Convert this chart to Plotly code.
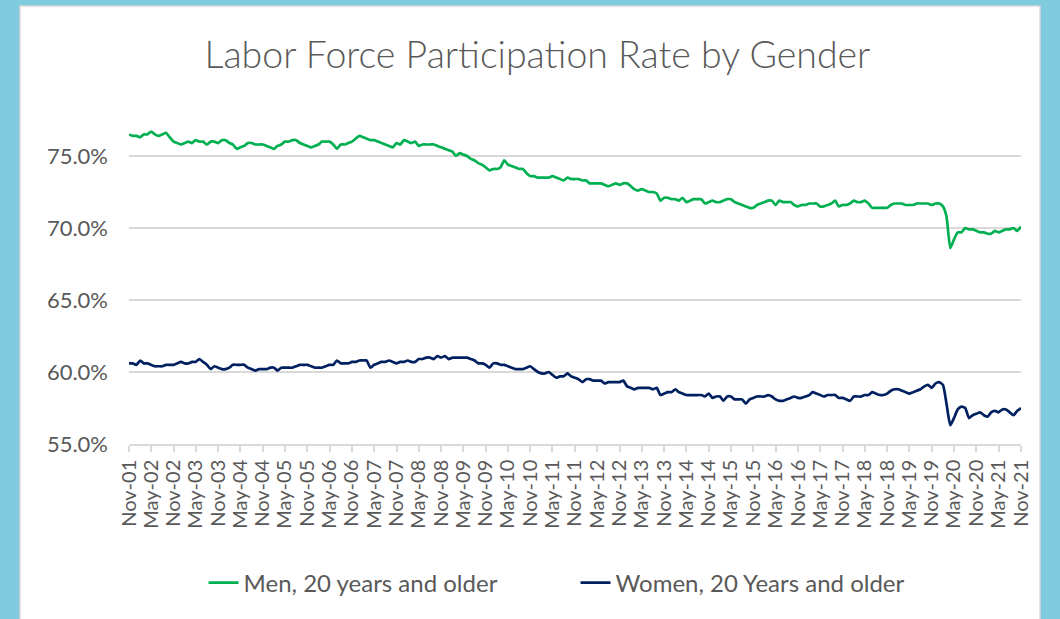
import pandas as pd
import plotly.graph_objects as go

# Monthly observations, Nov 2001 .. Nov 2021
start_month = "2001-11-01"
n_months = 241
months = pd.date_range(start_month, periods=n_months, freq="MS")

men_20_plus = [
    76.5, 76.4, 76.4, 76.3, 76.5, 76.5, 76.7, 76.5, 76.4, 76.5, 76.6, 76.3,
    76.0, 75.9, 75.8, 75.9, 76.0, 75.9, 76.1, 76.0, 76.0, 75.8, 76.0, 76.0,
    75.9, 76.1, 76.1, 75.9, 75.8, 75.5, 75.6, 75.7, 75.9, 75.9, 75.8, 75.8,
    75.8, 75.7, 75.6, 75.5, 75.7, 75.8, 76.0, 76.0, 76.1, 76.1, 75.9, 75.8,
    75.7, 75.6, 75.7, 75.8, 76.0, 76.0, 76.0, 75.8, 75.5, 75.8, 75.8, 75.9,
    76.0, 76.2, 76.4, 76.3, 76.2, 76.1, 76.1, 76.0, 75.9, 75.8, 75.7, 75.6,
    75.9, 75.8, 76.1, 76.0, 75.9, 76.0, 75.7, 75.8, 75.8, 75.8, 75.8, 75.7,
    75.6, 75.5, 75.4, 75.3, 75.0, 75.2, 75.1, 75.0, 74.8, 74.7, 74.5, 74.4,
    74.2, 74.0, 74.1, 74.1, 74.2, 74.7, 74.4, 74.3, 74.2, 74.1, 74.1, 73.8,
    73.6, 73.6, 73.5, 73.5, 73.5, 73.5, 73.6, 73.5, 73.4, 73.3, 73.5, 73.4,
    73.4, 73.4, 73.3, 73.3, 73.1, 73.1, 73.1, 73.1, 73.0, 72.9, 73.0, 73.1,
    73.0, 73.1, 73.1, 72.9, 72.7, 72.6, 72.7, 72.6, 72.5, 72.5, 72.4, 71.9,
    72.1, 72.1, 72.0, 72.0, 71.9, 72.1, 71.8, 71.9, 72.0, 72.0, 72.0, 71.7,
    71.8, 71.9, 71.8, 71.8, 71.9, 72.0, 72.0, 71.8, 71.7, 71.6, 71.5, 71.4,
    71.4, 71.6, 71.7, 71.8, 71.9, 71.9, 71.6, 71.9, 71.8, 71.8, 71.8, 71.6,
    71.5, 71.6, 71.6, 71.7, 71.7, 71.7, 71.5, 71.5, 71.6, 71.7, 71.9, 71.5,
    71.6, 71.6, 71.7, 71.9, 71.8, 71.8, 71.9, 71.7, 71.4, 71.4, 71.4, 71.4,
    71.4, 71.6, 71.7, 71.7, 71.7, 71.6, 71.6, 71.6, 71.7, 71.7, 71.7, 71.7,
    71.6, 71.7, 71.7, 71.5, 70.8, 68.6, 69.2, 69.7, 69.7, 70.0, 69.9, 69.9,
    69.8, 69.7, 69.7, 69.6, 69.6, 69.8, 69.7, 69.8, 69.9, 69.9, 70.0, 69.8,
    70.1,
]

women_20_plus = [
    60.6, 60.6, 60.5, 60.8, 60.6, 60.6, 60.5, 60.4, 60.4, 60.4, 60.5, 60.5,
    60.5, 60.6, 60.7, 60.6, 60.6, 60.7, 60.7, 60.9, 60.7, 60.5, 60.2, 60.4,
    60.3, 60.2, 60.2, 60.3, 60.5, 60.5, 60.5, 60.5, 60.3, 60.2, 60.1, 60.2,
    60.2, 60.2, 60.3, 60.3, 60.1, 60.3, 60.3, 60.3, 60.3, 60.4, 60.5, 60.5,
    60.5, 60.4, 60.3, 60.3, 60.3, 60.4, 60.5, 60.5, 60.8, 60.6, 60.6, 60.6,
    60.7, 60.7, 60.8, 60.8, 60.8, 60.3, 60.5, 60.6, 60.7, 60.7, 60.8, 60.7,
    60.6, 60.7, 60.7, 60.8, 60.7, 60.7, 60.9, 60.9, 61.0, 61.0, 60.9, 61.1,
    61.0, 61.1, 60.9, 61.0, 61.0, 61.0, 61.0, 61.0, 60.9, 60.8, 60.6, 60.6,
    60.5, 60.3, 60.6, 60.6, 60.5, 60.5, 60.4, 60.3, 60.2, 60.2, 60.2, 60.3,
    60.4, 60.2, 60.0, 59.9, 59.9, 60.0, 59.8, 59.6, 59.7, 59.7, 59.9, 59.7,
    59.6, 59.5, 59.3, 59.5, 59.5, 59.4, 59.4, 59.4, 59.2, 59.3, 59.3, 59.3,
    59.3, 59.4, 59.0, 58.9, 58.8, 58.9, 58.9, 58.9, 58.9, 58.8, 58.9, 58.4,
    58.5, 58.6, 58.6, 58.8, 58.6, 58.5, 58.4, 58.4, 58.4, 58.4, 58.4, 58.3,
    58.5, 58.2, 58.3, 58.3, 58.0, 58.3, 58.3, 58.1, 58.1, 58.1, 57.8, 58.1,
    58.2, 58.3, 58.3, 58.3, 58.4, 58.3, 58.1, 58.0, 58.0, 58.1, 58.2, 58.3,
    58.2, 58.2, 58.3, 58.4, 58.6, 58.5, 58.4, 58.3, 58.4, 58.4, 58.4, 58.2,
    58.2, 58.1, 58.0, 58.3, 58.3, 58.3, 58.4, 58.4, 58.6, 58.5, 58.4, 58.4,
    58.5, 58.7, 58.8, 58.8, 58.7, 58.6, 58.5, 58.6, 58.7, 58.8, 59.0, 59.1,
    58.9, 59.2, 59.3, 59.1, 57.8, 56.3, 56.8, 57.4, 57.6, 57.5, 56.8, 57.0,
    57.1, 57.2, 57.0, 56.9, 57.2, 57.3, 57.2, 57.4, 57.4, 57.2, 57.0, 57.3,
    57.5,
]

series_names = ["Men, 20 years and older", "Women, 20 Years and older"]
series_colors = ["#00B050", "#002060"]
y_ticks = [55, 60, 65, 70, 75]

TEXT = "#595959"
FONT = "Lato"

fig = go.Figure()
for i, (name, vals, col) in enumerate(zip(series_names, [men_20_plus, women_20_plus], series_colors)):
    fig.add_trace(go.Scatter(
        x=months, y=vals, name=name, mode="lines",
        legend="legend" if i == 0 else "legend2",
        line=dict(color=col, width=2.7, shape="spline", smoothing=0.5),
    ))

# white chart panel on the blue frame
fig.add_shape(type="rect", xref="paper", yref="paper",
              x0=-0.1222, x1=1.0213, y0=-0.55, y1=1.352,
              fillcolor="white", line=dict(color="#D9D9D9", width=1.5),
              layer="below")

legend_common = dict(orientation="h", yanchor="middle", y=-0.429, xanchor="left",
                     font=dict(family=FONT, size=24, color=TEXT),
                     bgcolor="rgba(0,0,0,0)", borderwidth=0)

fig.update_layout(
    width=1060, height=619,
    paper_bgcolor="#80CBDD",
    plot_bgcolor="white",
    margin=dict(l=129, r=39, t=120, b=175),
    title=dict(text="Labor Force Participation Rate by Gender",
               x=0.507, xanchor="center", y=0.911, yanchor="middle",
               font=dict(family=FONT, size=37.5, color=TEXT, weight=300)),
    showlegend=True,
    legend=dict(x=0.0836, **legend_common),
    legend2=dict(x=0.5006, **legend_common),
    xaxis=dict(
        type="date",
        range=[months[0], months[-1]],
        tick0=start_month, dtick="M6", tickformat="%b-%y",
        tickangle=-90,
        tickfont=dict(family=FONT, size=20, color=TEXT),
        showgrid=False,
        showline=True, linecolor="#D9D9D9", linewidth=1.5,
        ticks="outside", ticklen=6, tickcolor="#D9D9D9", tickwidth=1.5,
        zeroline=False,
    ),
    yaxis=dict(
        range=[55, 77.5],
        tickvals=y_ticks,
        ticktext=[f"{v:.1f}%" for v in y_ticks],
        tickfont=dict(family=FONT, size=22, color=TEXT),
        showgrid=True, gridcolor="#D9D9D9", gridwidth=1.5,
        zeroline=False, showline=False,
        ticks="", ticklabelstandoff=20,
    ),
)

fig.write_html("out.html", config={"displayModeBar": False},
               post_script="document.body.style.margin='0px';document.body.style.overflow='hidden';")
